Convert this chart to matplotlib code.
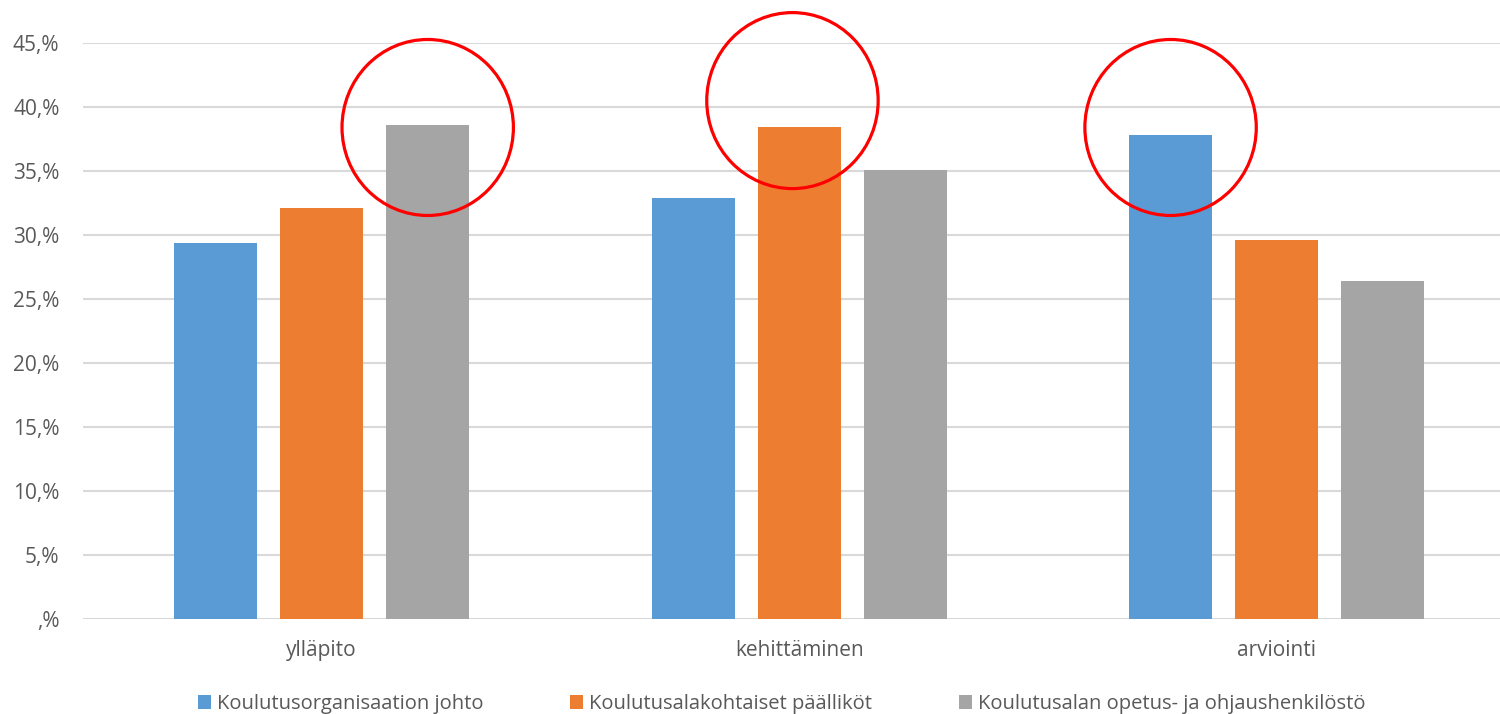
import numpy as np
import matplotlib.pyplot as plt
from matplotlib.patches import Ellipse

plt.rcParams['font.family'] = ['Open Sans', 'DejaVu Sans']

categories = ['ylläpito', 'kehittäminen', 'arviointi']
series_names = ['Koulutusorganisaation johto',
                'Koulutusalakohtaiset päälliköt',
                'Koulutusalan opetus- ja ohjaushenkilöstö']
johto = [29.4, 32.9, 37.8]
paallikot = [32.1, 38.4, 29.6]
henkilosto = [38.6, 35.1, 26.4]
ytick_values = [0, 5, 10, 15, 20, 25, 30, 35, 40, 45]
ytick_labels = [',%', '5,%', '10,%', '15,%', '20,%', '25,%', '30,%', '35,%', '40,%', '45,%']
# highlighted bars: (category index, series index, circle centre in %)
highlights = [(0, 2, 38.4), (1, 1, 40.5), (2, 0, 38.4)]

colors = ['#5B9BD5', '#ED7D31', '#A5A5A5']

fig = plt.figure(figsize=(15, 7.14), dpi=100)
ax = fig.add_axes([83 / 1500, 1 - 619 / 714, 1 - 83 / 1500, (619 - 43) / 714])

x = np.arange(len(categories))
width = 0.174
step = 0.222
all_series = [johto, paallikot, henkilosto]
for i, (vals, name) in enumerate(zip(all_series, series_names)):
    ax.bar(x + (i - 1) * step, vals, width, color=colors[i], label=name, zorder=3)

# red circles around the largest bar of each group
for cat, ser, cy in highlights:
    cx = cat + (ser - 1) * step - (0.014 if ser == 1 else 0)
    ax.add_patch(Ellipse((cx, cy), 0.359, 13.75, fill=False,
                         edgecolor='#FF0000', lw=2.3, zorder=5, clip_on=False))

ax.set_xlim(-0.5, 2.468)
ax.set_ylim(0, 45)
ax.set_yticks(ytick_values)
ax.set_yticklabels(ytick_labels)
ax.set_xticks(x)
ax.set_xticklabels(categories)
ax.tick_params(length=0, labelsize=15, colors='#595959')
ax.tick_params(axis='y', pad=17)
ax.tick_params(axis='x', pad=15)
ax.yaxis.grid(True, color='#D9D9D9', lw=1.5, zorder=0)
for s in ax.spines.values():
    s.set_visible(False)

fig.legend(loc='center', bbox_to_anchor=(0.521, 0.014), ncol=3, frameon=False,
           fontsize=14.5, handlelength=0.65, handleheight=0.65, handletextpad=0.3,
           columnspacing=4.3, labelcolor='#595959')

fig.savefig('out.png', dpi=100)
